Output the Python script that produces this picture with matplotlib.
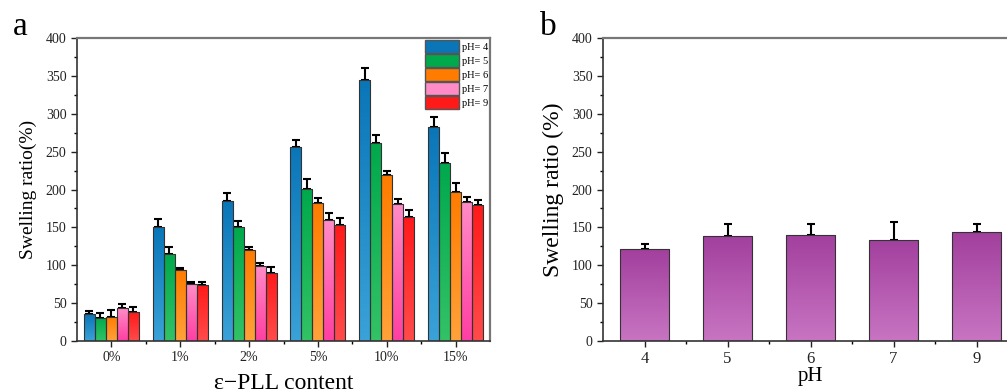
import numpy as np
import matplotlib
matplotlib.use("Agg")
import matplotlib.pyplot as plt
from matplotlib.colors import LinearSegmentedColormap

plt.rcParams['font.family'] = ['Liberation Serif', 'DejaVu Serif']

# panel a data
contents = ['0%', '1%', '2%', '5%', '10%', '15%']
ph_labels = ['pH= 4', 'pH= 5', 'pH= 6', 'pH= 7', 'pH= 9']
ph4 = [35, 150.5, 185, 256.5, 344, 282.5]
ph5 = [31, 115.5, 151, 201, 261.5, 235.5]
ph6 = [32, 93.5, 119.5, 182, 218.5, 197]
ph7 = [43, 75, 99.5, 160, 181.5, 184]
ph9 = [38, 73.5, 90, 152.5, 164, 179]
err4 = [4.5, 10, 11, 8.5, 16, 13.5]
err5 = [6.5, 8.5, 7.5, 13.5, 11, 13]
err6 = [8.5, 3.5, 4, 7, 6, 12]
err7 = [6, 3.5, 4, 9.5, 6, 6]
err9 = [7, 5, 8, 10.5, 9.5, 6.5]

# panel b data
ph_b = ['4', '5', '6', '7', '9']
swell_b = [121, 139, 140.5, 133.5, 143.5]
err_b = [6.5, 15.5, 13.5, 23.5, 10.5]

series = [ph4, ph5, ph6, ph7, ph9]
errs = [err4, err5, err6, err7, err9]
# (top colour, bottom colour)
grads = [('#0a76b8', '#3aa2d8'), ('#00a94c', '#33c266'), ('#ff7c00', '#ffa23a'),
         ('#ff8cc6', '#ff3fa2'), ('#ff1a1a', '#ff4b4b')]
purple = ('#a2409e', '#c874c2')


def gradient_fill(ax, bars, top, bottom):
    cmap = LinearSegmentedColormap.from_list('g', [bottom, top])
    grad = np.linspace(0, 1, 64).reshape(-1, 1)
    for b in bars:
        x, y = b.get_x(), b.get_y()
        w, h = b.get_width(), b.get_height()
        im = ax.imshow(grad, cmap=cmap, origin='lower', aspect='auto',
                       extent=[x, x + w, y, y + h], zorder=2)
        im.set_clip_path(b)


def style_axes(ax):
    ax.set_ylim(0, 400)
    ax.set_yticks(np.arange(0, 401, 50))
    ax.set_yticks(np.arange(0, 401, 25), minor=True)
    ax.tick_params(axis='both', which='major', direction='out', length=4,
                   width=1, labelsize=10, colors='#222222')
    ax.tick_params(axis='both', which='minor', direction='out', length=2, width=1)
    ax.tick_params(top=False, right=False)
    for s in ['top', 'right']:
        ax.spines[s].set_color('#777777')
        ax.spines[s].set_linewidth(1.6)
    for s in ['left', 'bottom']:
        ax.spines[s].set_color('#333333')
        ax.spines[s].set_linewidth(1.2)


fig = plt.figure(figsize=(10.07, 3.92), dpi=100)

# ---------- panel a ----------
ax1 = fig.add_axes([77 / 1007, 1 - 341 / 392, 413 / 1007, 303 / 392])
x = np.arange(len(contents))
w = 0.16
handles = []
for i, (vals, e, (top, bot)) in enumerate(zip(series, errs, grads)):
    pos = x + (i - 2) * w
    bars = ax1.bar(pos, vals, w, facecolor=top, edgecolor='#333333',
                   linewidth=0.8, zorder=3, label=ph_labels[i])
    for b in bars:
        b.set_facecolor('none')
    gradient_fill(ax1, bars, top, bot)
    ax1.errorbar(pos, vals, yerr=[np.zeros(len(vals)), e], fmt='none',
                 ecolor='black', elinewidth=1.5, capsize=3, capthick=1.5, zorder=1)
    handles.append(plt.Rectangle((0, 0), 1, 1, facecolor=top, edgecolor='#555555'))

ax1.set_xlim(-0.5, 5.5)
ax1.set_xticks(x)
ax1.set_xticklabels(contents)
ax1.set_xticks(x[:-1] + 0.5, minor=True)
style_axes(ax1)
ax1.set_ylabel('Swelling ratio(%)', fontsize=14, labelpad=6)
ax1.set_xlabel('ε−PLL content', fontsize=17, labelpad=6)
ax1.legend(handles, ph_labels, loc='upper right', frameon=False, fontsize=7.5,
           handlelength=3.2, handleheight=1.6, labelspacing=0.05,
           handletextpad=0.3, borderaxespad=0.1, borderpad=0.1)
fig.text(13 / 1007, 1 - 27 / 392, 'a', fontsize=24, va='center')

# ---------- panel b ----------
ax2 = fig.add_axes([603 / 1007, 1 - 341 / 392, 415 / 1007, 303 / 392])
xb = np.arange(len(ph_b))
bars = ax2.bar(xb, swell_b, 0.6, facecolor='none', edgecolor='#333333',
               linewidth=0.8, zorder=3)
gradient_fill(ax2, bars, *purple)
ax2.errorbar(xb, swell_b, yerr=[np.zeros(len(xb)), err_b], fmt='none',
             ecolor='black', elinewidth=1.5, capsize=3, capthick=1.5, zorder=1)
ax2.set_xlim(-0.5, 4.5)
ax2.set_xticks(xb)
ax2.set_xticklabels(ph_b)
ax2.set_xticks(xb[:-1] + 0.5, minor=True)
style_axes(ax2)
ax2.tick_params(axis='x', which='major', labelsize=12)
ax2.set_ylabel('Swelling ratio (%)', fontsize=17, labelpad=6)
ax2.set_xlabel('pH', fontsize=15, labelpad=0)
fig.text(540 / 1007, 1 - 27 / 392, 'b', fontsize=24, va='center')

fig.savefig('out.png', dpi=100)
